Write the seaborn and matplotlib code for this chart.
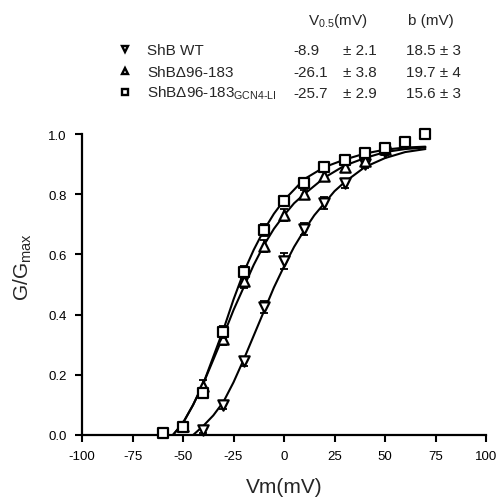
import numpy as np
import matplotlib
matplotlib.use('Agg')
import matplotlib.pyplot as plt
import seaborn as sns

# Dados
v_wt = [-40, -30, -20, -10, 0, 10, 20, 30, 40, 50]
g_wt = [0.015, 0.10, 0.245, 0.425, 0.578, 0.684, 0.77, 0.837, 0.90, 0.94]
e_wt = [0.01, 0.012, 0.015, 0.02, 0.025, 0.02, 0.02, 0.015, 0.012, 0.01]

v_del = [-50, -40, -30, -20, -10, 0, 10, 20, 30, 40, 50]
g_del = [0.03, 0.163, 0.32, 0.51, 0.628, 0.732, 0.80, 0.86, 0.89, 0.91, 0.95]
e_del = [0.01, 0.02, 0.02, 0.02, 0.02, 0.02, 0.015, 0.015, 0.012, 0.01, 0.01]

v_gcn = [-60, -50, -40, -30, -20, -10, 0, 10, 20, 30, 40, 50, 60, 70]
g_gcn = [0.005, 0.027, 0.14, 0.342, 0.542, 0.68, 0.776, 0.837, 0.89, 0.912, 0.937, 0.953, 0.973, 1.0]
e_gcn = [0.005, 0.01, 0.015, 0.02, 0.02, 0.02, 0.015, 0.015, 0.012, 0.01, 0.01, 0.01, 0.008, 0.005]

# Curvas de ajuste
cv_wt = [-45, -40, -35, -30, -25, -20, -15, -10, -5, 0, 5, 10, 15, 20, 25, 30, 40, 50, 60, 70]
cg_wt = [0.0, 0.03, 0.065, 0.11, 0.175, 0.25, 0.33, 0.41, 0.49, 0.56, 0.625, 0.68, 0.73, 0.77,
         0.81, 0.84, 0.89, 0.92, 0.94, 0.95]
cv_del = [-55, -50, -45, -40, -35, -30, -25, -20, -15, -10, -5, 0, 5, 10, 20, 30, 40, 50, 60, 70]
cg_del = [0.0, 0.04, 0.10, 0.17, 0.25, 0.33, 0.415, 0.49, 0.565, 0.63, 0.685, 0.73, 0.77, 0.80,
          0.855, 0.895, 0.92, 0.94, 0.95, 0.955]
cv_gcn = [-55, -50, -45, -40, -35, -30, -25, -20, -15, -10, -5, 0, 5, 10, 20, 30, 40, 50, 60, 70]
cg_gcn = [0.0, 0.04, 0.10, 0.17, 0.26, 0.35, 0.45, 0.54, 0.615, 0.68, 0.735, 0.78, 0.815, 0.85,
          0.89, 0.915, 0.935, 0.948, 0.955, 0.958]

names = ['ShB WT', 'ShB\u039496-183', 'ShB\u039496-183$_{\\rm GCN4\\text{-}LI}$']
v05 = ['-8.9', '-26.1', '-25.7']
v05_err = ['2.1', '3.8', '2.9']
b_vals = ['18.5 \u00b1 3', '19.7 \u00b1 4', '15.6 \u00b1 3']
markers = ['v', '^', 's']

x_ticks = [-100, -75, -50, -25, 0, 25, 50, 75, 100]
y_ticks = [0.0, 0.2, 0.4, 0.6, 0.8, 1.0]

sns.set_style('ticks')
plt.rcParams['font.family'] = ['Liberation Sans', 'DejaVu Sans']
plt.rcParams['mathtext.fontset'] = 'custom'
plt.rcParams['mathtext.rm'] = 'Liberation Sans'
plt.rcParams['mathtext.it'] = 'Liberation Sans'

W, H = 496, 502
fig = plt.figure(figsize=(W / 100, H / 100), dpi=100)
ax = fig.add_axes([82 / W, 1 - 436 / H, 404 / W, 301 / H])

# Curvas
for cv, cg in [(cv_wt, cg_wt), (cv_del, cg_del), (cv_gcn, cg_gcn)]:
    sns.lineplot(x=cv, y=cg, ax=ax, color='black', lw=1.5, sort=False,
                 estimator=None, zorder=2)

# Barras de erro e pontos
series = [(v_wt, g_wt, e_wt, 'v', 55), (v_del, g_del, e_del, '^', 55),
          (v_gcn, g_gcn, e_gcn, 's', 55)]
for i, (v, g, e, m, s) in enumerate(series):
    ax.errorbar(v, g, yerr=e, fmt='none', ecolor='black', elinewidth=1.3,
                capsize=3, capthick=1.3, zorder=3 + i, clip_on=False)
    sns.scatterplot(x=v, y=g, ax=ax, marker=m, s=s, facecolor='white',
                    edgecolor='black', linewidth=1.6, zorder=4 + i, clip_on=False)

ax.set_xlim(-100, 100)
ax.set_ylim(0, 1.0)
ax.set_xticks(x_ticks)
ax.set_xticklabels([str(t) for t in x_ticks])
ax.set_yticks(y_ticks)
ax.set_yticklabels(['%.1f' % t for t in y_ticks])
ax.tick_params(axis='both', direction='out', length=5, width=1.5,
               labelsize=9.5, colors='black', pad=6)
for side in ['top', 'right']:
    ax.spines[side].set_visible(False)
for side in ['left', 'bottom']:
    ax.spines[side].set_linewidth(1.6)
    ax.spines[side].set_color('black')

ax.set_xlabel('Vm(mV)', fontsize=15)
ax.set_ylabel('G/G$_{\\rm max}$', fontsize=15)
ax.xaxis.set_label_coords(0.5, -0.14)
ax.yaxis.set_label_coords(-0.12, 0.56)

# Tabela da legenda
def fx(px):
    return px / W

def fy(py):
    return 1 - py / H

fs = 11
fig.text(fx(308), fy(25), 'V$_{0.5}$(mV)', fontsize=fs, va='baseline')
fig.text(fx(408), fy(25), 'b (mV)', fontsize=fs, va='baseline')
rows_y = [55, 77, 98]
for i in range(3):
    yb = rows_y[i]
    ax.plot([fx(125)], [fy(yb - 5)], marker=markers[i], ms=5, mfc='white',
            mec='black', mew=1.7, transform=fig.transFigure, clip_on=False)
    fig.text(fx(147), fy(yb), names[i], fontsize=fs, va='baseline')
    fig.text(fx(293), fy(yb), v05[i], fontsize=fs, va='baseline')
    fig.text(fx(343), fy(yb), '\u00b1 ' + v05_err[i], fontsize=fs, va='baseline')
    fig.text(fx(406), fy(yb), b_vals[i], fontsize=fs, va='baseline')

fig.savefig('out.png', dpi=100)
